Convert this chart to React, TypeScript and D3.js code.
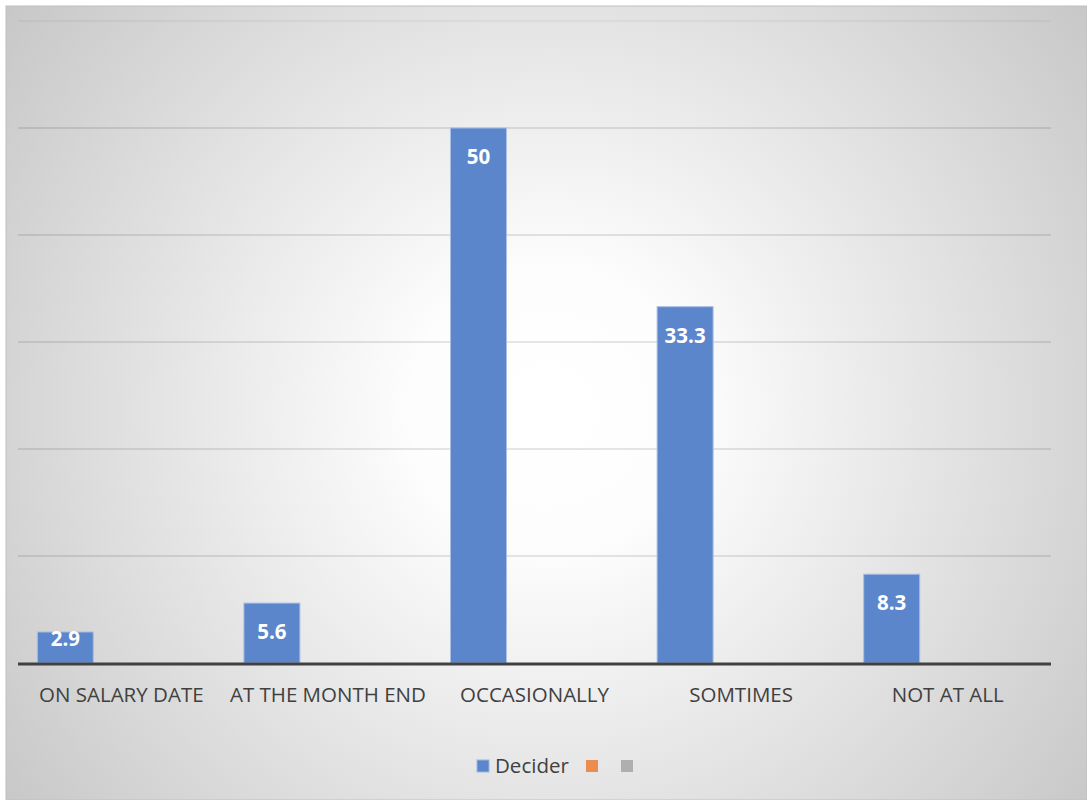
import React from "react";
import * as d3 from "d3";

const categories = ["ON SALARY DATE", "AT THE MONTH END", "OCCASIONALLY", "SOMTIMES", "NOT AT ALL"];
const deciderValues = [2.9, 5.6, 50, 33.3, 8.3];
const seriesNames = ["Decider", "", ""];
const seriesColors = ["#5B86CB", "#ED7D31", "#A5A5A5"];
const yTicks = [10, 20, 30, 40, 50, 60];

const W = 1087;
const H = 800;

export default function App() {
  const plotLeft = 18;
  const plotRight = 1051;
  const plotTop = 21;
  const plotBottom = 663;

  const y = d3.scaleLinear().domain([0, 60]).range([plotBottom, plotTop]);
  const x0 = d3.scaleBand<string>().domain(categories).range([plotLeft, plotRight]).paddingInner(0).paddingOuter(0);
  const catW = x0.bandwidth();
  const barW = catW / 3.69;
  const gap = catW - barW * 3;

  const labelFont = "'Open Sans', 'Liberation Sans', sans-serif";

  return (
    <svg width={W} height={H} style={{ position: "absolute", left: 0, top: 0 }} xmlns="http://www.w3.org/2000/svg">
      <defs>
        <radialGradient id="bg" gradientUnits="userSpaceOnUse" cx={550} cy={410} r={690}>
          <stop offset="0" stopColor="#ffffff" />
          <stop offset="0.2" stopColor="#fdfdfd" />
          <stop offset="1" stopColor="#c6c6c6" />
        </radialGradient>
      </defs>
      <rect x={0} y={0} width={W} height={H} fill="#ffffff" />
      <rect x={6} y={6} width={W - 6} height={H - 6} fill="url(#bg)" stroke="#c0c0c0" strokeWidth={1} />

      {yTicks.map((t) => (
        <line key={t} x1={plotLeft} x2={plotRight} y1={y(t)} y2={y(t)} stroke="#000" strokeOpacity={t === 60 ? 0.08 : 0.2} strokeWidth={1.2} />
      ))}

      {categories.map((c, i) => {
        const v = deciderValues[i];
        const bx = (x0(c) as number) + gap / 2;
        const top = y(v);
        const bh = plotBottom - top;
        const baseline = bh >= 45 ? top + 36 : top + 14;
        return (
          <g key={c}>
            <rect x={bx} y={top} width={barW} height={bh} fill={seriesColors[0]} stroke="#a9bfe4" strokeWidth={1} />
            <text x={bx + barW / 2} y={baseline} textAnchor="middle" fill="#ffffff" fontWeight="bold" fontSize={20.5} fontFamily={labelFont}>
              {v}
            </text>
            <text x={(x0(c) as number) + catW / 2} y={702} textAnchor="middle" fill="#404040" fontSize={20.5} fontFamily={labelFont}>
              {c}
            </text>
          </g>
        );
      })}

      <line x1={plotLeft} x2={plotRight} y1={plotBottom + 1} y2={plotBottom + 1} stroke="#404040" strokeWidth={3} />

      <g>
        <rect x={477} y={760} width={12} height={12} fill={seriesColors[0]} stroke="#9db5e0" strokeWidth={1} />
        <text x={495} y={773} fill="#404040" fontSize={20.5} fontFamily={labelFont}>
          {seriesNames[0]}
        </text>
        <rect x={586} y={760} width={12} height={12} fill={seriesColors[1]} opacity={0.85} />
        <rect x={621} y={760} width={12} height={12} fill={seriesColors[2]} opacity={0.85} />
      </g>
    </svg>
  );
}
